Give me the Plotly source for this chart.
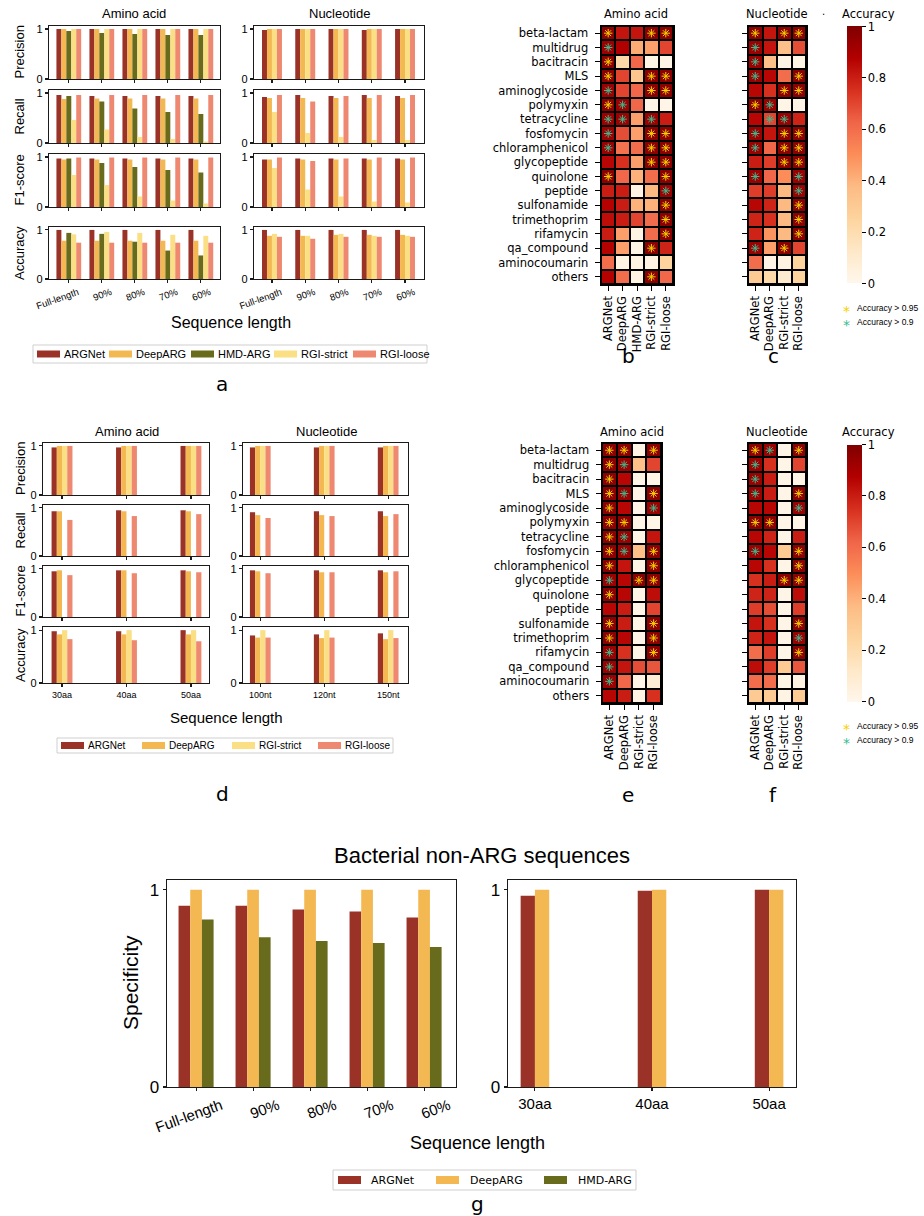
import plotly.graph_objects as go

W, H = 924, 1216
SANS = "Liberation Sans, Arial, sans-serif"
DJV = "DejaVu Sans, sans-serif"

# ---------------- data ----------------
length_labels = ["Full-length", "90%", "80%", "70%", "60%"]
aa_short_labels = ["30aa", "40aa", "50aa"]
nt_short_labels = ["100nt", "120nt", "150nt"]
metric_names = ["Precision", "Recall", "F1-score", "Accuracy"]
models5 = ["ARGNet", "DeepARG", "HMD-ARG", "RGI-strict", "RGI-loose"]
model_colors = ["#9b3228", "#f4b852", "#686b1b", "#fadf84", "#ee8870"]
idx4 = [0, 1, 3, 4]   # ARGNet, DeepARG, RGI-strict, RGI-loose
idx3 = [0, 1, 2]      # ARGNet, DeepARG, HMD-ARG
idx2 = [0, 1]         # ARGNet, DeepARG

# Panel a - amino acid (rows: ARGNet, DeepARG, HMD-ARG, RGI-strict, RGI-loose)
a_aa_precision = [[1.00, 1.00, 1.00, 1.00, 1.00],
                  [1.00, 1.00, 1.00, 1.00, 1.00],
                  [0.96, 0.92, 0.90, 0.88, 0.88],
                  [1.00, 1.00, 1.00, 1.00, 1.00],
                  [1.00, 1.00, 1.00, 1.00, 1.00]]
a_aa_recall = [[0.96, 0.94, 0.94, 0.94, 0.94],
               [0.88, 0.89, 0.89, 0.89, 0.89],
               [0.94, 0.83, 0.69, 0.62, 0.58],
               [0.46, 0.27, 0.12, 0.08, 0.03],
               [0.96, 0.96, 0.96, 0.96, 0.96]]
a_aa_f1 = [[0.97, 0.97, 0.97, 0.97, 0.97],
           [0.95, 0.95, 0.95, 0.95, 0.95],
           [0.97, 0.88, 0.80, 0.74, 0.69],
           [0.64, 0.44, 0.21, 0.13, 0.07],
           [0.99, 0.99, 0.99, 0.99, 0.99]]
a_aa_accuracy = [[1.00, 1.00, 1.00, 1.00, 1.00],
                 [0.78, 0.78, 0.78, 0.78, 0.78],
                 [0.94, 0.92, 0.76, 0.58, 0.48],
                 [0.91, 0.96, 0.94, 0.90, 0.88],
                 [0.74, 0.74, 0.74, 0.74, 0.74]]

# Panel a - nucleotide (rows: ARGNet, DeepARG, RGI-strict, RGI-loose)
a_nt_precision = [[0.98, 1.00, 1.00, 0.98, 1.00],
                  [1.00, 1.00, 1.00, 1.00, 1.00],
                  [1.00, 1.00, 1.00, 1.00, 1.00],
                  [1.00, 1.00, 1.00, 1.00, 1.00]]
a_nt_recall = [[0.92, 0.96, 0.94, 0.96, 0.94],
               [0.90, 0.90, 0.90, 0.90, 0.90],
               [0.62, 0.20, 0.12, 0.06, 0.06],
               [0.96, 0.83, 0.94, 0.96, 0.96]]
a_nt_f1 = [[0.95, 0.97, 0.97, 0.97, 0.97],
           [0.95, 0.95, 0.95, 0.95, 0.95],
           [0.78, 0.35, 0.21, 0.11, 0.09],
           [0.99, 0.92, 0.97, 0.99, 0.99]]
a_nt_accuracy = [[1.00, 1.00, 1.00, 1.00, 1.00],
                 [0.88, 0.88, 0.90, 0.90, 0.90],
                 [0.92, 0.88, 0.92, 0.88, 0.88],
                 [0.86, 0.82, 0.86, 0.86, 0.86]]

# Panel d - short amino acid reads (rows: ARGNet, DeepARG, RGI-strict, RGI-loose)
d_aa_precision = [[0.97, 0.97, 1.00],
                  [1.00, 1.00, 1.00],
                  [1.00, 1.00, 1.00],
                  [1.00, 1.00, 1.00]]
d_aa_recall = [[0.93, 0.95, 0.95],
               [0.93, 0.93, 0.93],
               [0.00, 0.00, 0.00],
               [0.75, 0.83, 0.87]]
d_aa_f1 = [[0.95, 0.97, 0.97],
           [0.97, 0.97, 0.95],
           [0.00, 0.00, 0.00],
           [0.87, 0.91, 0.93]]
d_aa_accuracy = [[0.98, 0.98, 1.00],
                 [0.92, 0.92, 0.92],
                 [1.00, 1.00, 1.00],
                 [0.83, 0.81, 0.79]]

# Panel d - short nucleotide reads
d_nt_precision = [[0.97, 0.97, 0.97],
                  [1.00, 1.00, 1.00],
                  [1.00, 1.00, 1.00],
                  [1.00, 1.00, 1.00]]
d_nt_recall = [[0.91, 0.93, 0.93],
               [0.85, 0.85, 0.83],
               [0.00, 0.00, 0.00],
               [0.79, 0.83, 0.87]]
d_nt_f1 = [[0.97, 0.97, 0.97],
           [0.95, 0.93, 0.93],
           [0.00, 0.00, 0.00],
           [0.91, 0.93, 0.95]]
d_nt_accuracy = [[0.90, 0.92, 0.94],
                 [0.86, 0.85, 0.83],
                 [1.00, 1.00, 1.00],
                 [0.86, 0.86, 0.85]]

# Panel g - specificity on bacterial non-ARG sequences
g_len_specificity = [[0.92, 0.92, 0.90, 0.89, 0.86],   # ARGNet
                     [1.00, 1.00, 1.00, 1.00, 1.00],   # DeepARG
                     [0.85, 0.76, 0.74, 0.73, 0.71]]   # HMD-ARG
g_short_specificity = [[0.97, 0.995, 1.00],            # ARGNet
                       [1.00, 1.00, 1.00]]             # DeepARG

# Heatmaps: per-class accuracy
arg_classes = ["beta-lactam", "multidrug", "bacitracin", "MLS", "aminoglycoside",
               "polymyxin", "tetracycline", "fosfomycin", "chloramphenicol",
               "glycopeptide", "quinolone", "peptide", "sulfonamide", "trimethoprim",
               "rifamycin", "qa_compound", "aminocoumarin", "others"]
heat_cols5 = ["ARGNet", "DeepARG", "HMD-ARG", "RGI-strict", "RGI-loose"]
heat_cols4 = ["ARGNet", "DeepARG", "RGI-strict", "RGI-loose"]

b_values = [[0.97, 0.82, 0.82, 0.97, 0.97],
            [0.93, 0.88, 0.42, 0.45, 0.70],
            [0.97, 0.22, 0.62, 0.02, 0.02],
            [0.97, 0.70, 0.32, 0.97, 0.97],
            [0.93, 0.70, 0.62, 0.97, 0.97],
            [0.97, 0.93, 0.62, 0.02, 0.02],
            [0.93, 0.93, 0.45, 0.93, 0.80],
            [0.93, 0.68, 0.45, 0.97, 0.97],
            [0.93, 0.58, 0.60, 0.97, 0.97],
            [0.86, 0.75, 0.45, 0.97, 0.97],
            [0.97, 0.62, 0.40, 0.60, 0.97],
            [0.80, 0.80, 0.03, 0.38, 0.93],
            [0.87, 0.80, 0.40, 0.40, 0.97],
            [0.84, 0.80, 0.70, 0.60, 0.97],
            [0.80, 0.45, 0.03, 0.60, 0.97],
            [0.87, 0.45, 0.03, 0.97, 0.78],
            [0.60, 0.03, 0.03, 0.03, 0.25],
            [0.87, 0.60, 0.03, 0.97, 0.62]]
b_stars = ["Y..YY", "G....", "Y....", "Y..YY", "G..YY", "YG...", "GG.G.", "G..YY", "G..YY",
           "...YY", "Y...Y", "....G", "....Y", "....Y", "....Y", "...Y.", ".....", "...Y."]

c_values = [[0.97, 0.82, 0.97, 0.97],
            [0.93, 0.82, 0.35, 0.68],
            [0.93, 0.35, 0.02, 0.02],
            [0.93, 0.86, 0.60, 0.97],
            [0.86, 0.75, 0.97, 0.97],
            [0.97, 0.93, 0.02, 0.02],
            [0.86, 0.70, 0.93, 0.78],
            [0.93, 0.82, 0.97, 0.97],
            [0.93, 0.62, 0.97, 0.97],
            [0.80, 0.72, 0.97, 0.97],
            [0.93, 0.62, 0.50, 0.93],
            [0.72, 0.72, 0.38, 0.93],
            [0.86, 0.78, 0.38, 0.97],
            [0.78, 0.75, 0.38, 0.97],
            [0.78, 0.48, 0.38, 0.97],
            [0.93, 0.45, 0.97, 0.70],
            [0.60, 0.03, 0.04, 0.25],
            [0.30, 0.22, 0.10, 0.25]]
c_stars = ["Y.YY", "G...", "G...", "G..Y", "..YY", "YG..", ".GG.", "G.YY", "G.YY",
           "..YY", "G..G", "...G", "...Y", "...Y", "...Y", "G.Y.", "....", "...."]

e_values = [[0.97, 0.97, 0.02, 0.97],
            [0.97, 0.93, 0.35, 0.70],
            [0.97, 0.86, 0.02, 0.02],
            [0.97, 0.93, 0.02, 0.97],
            [0.97, 0.86, 0.02, 0.93],
            [0.97, 0.97, 0.02, 0.02],
            [0.97, 0.93, 0.02, 0.82],
            [0.97, 0.93, 0.35, 0.97],
            [0.97, 0.82, 0.02, 0.97],
            [0.93, 0.86, 0.97, 0.97],
            [0.97, 0.86, 0.02, 0.84],
            [0.86, 0.80, 0.02, 0.70],
            [0.97, 0.80, 0.02, 0.97],
            [0.97, 0.86, 0.02, 0.97],
            [0.93, 0.75, 0.02, 0.97],
            [0.93, 0.82, 0.68, 0.66],
            [0.93, 0.62, 0.02, 0.08],
            [0.86, 0.80, 0.03, 0.75]]
e_stars = ["YY.Y", "YG..", "Y...", "YG.Y", "Y..G", "YY..", "YG..", "YG.Y", "Y..Y",
           "G.YY", "Y...", "....", "Y..Y", "Y..Y", "G..Y", "G...", "G...", "...."]

f_values = [[0.97, 0.93, 0.02, 0.97],
            [0.93, 0.75, 0.02, 0.70],
            [0.93, 0.80, 0.02, 0.02],
            [0.93, 0.80, 0.02, 0.97],
            [0.86, 0.86, 0.02, 0.93],
            [0.97, 0.97, 0.02, 0.02],
            [0.86, 0.78, 0.02, 0.80],
            [0.93, 0.86, 0.30, 0.97],
            [0.86, 0.75, 0.02, 0.97],
            [0.75, 0.80, 0.97, 0.97],
            [0.78, 0.78, 0.02, 0.84],
            [0.72, 0.68, 0.02, 0.72],
            [0.82, 0.75, 0.02, 0.97],
            [0.78, 0.82, 0.02, 0.93],
            [0.60, 0.72, 0.02, 0.97],
            [0.84, 0.72, 0.30, 0.66],
            [0.60, 0.60, 0.02, 0.03],
            [0.30, 0.30, 0.03, 0.30]]
f_stars = ["YG.Y", "G...", "G...", "G..Y", "...G", "YY..", "....", "G..Y", "...Y",
           "..YY", "....", "....", "...Y", "...G", "...Y", "....", "....", "...."]

star_colors = {"Y": "#f5d000", "G": "#3dbb8e"}
star_labels = {"Y": "Accuracy > 0.95", "G": "Accuracy > 0.9"}

# ---------------- figure ----------------
fig = go.Figure()
annotations = []
shapes = []
ax_n = [0]


def new_axes(x0, x1, y0, y1, xa, ya):
    ax_n[0] += 1
    n = ax_n[0]
    s = "" if n == 1 else str(n)
    xa = dict(xa, domain=[x0 / W, x1 / W], anchor="y" + s, automargin=False)
    ya = dict(ya, domain=[1 - y1 / H, 1 - y0 / H], anchor="x" + s, automargin=False)
    fig.update_layout({"xaxis" + s: xa, "yaxis" + s: ya})
    return "x" + s, "y" + s


frame = dict(showline=True, mirror=True, linecolor="#1a1a1a", linewidth=1.3,
             showgrid=False, zeroline=False, ticks="outside", ticklen=3,
             tickwidth=1.1, tickcolor="#1a1a1a", fixedrange=True)


def bar_panel(box, data, model_idx, cats, xrange, ymax, width, show_xlabels,
              xfont, tickangle, yfont, labelshift=0):
    x0, x1, y0, y1 = box
    xa = dict(frame, range=xrange, tickvals=list(range(len(cats))), ticktext=cats,
              showticklabels=show_xlabels, tickangle=tickangle, tickfont=xfont,
              ticklabelshift=labelshift)
    ya = dict(frame, range=[0, ymax], tickvals=[0, 1], ticktext=["0", "1"], tickfont=yfont)
    xr, yr = new_axes(x0, x1, y0, y1, xa, ya)
    n = len(data)
    for i, (vals, mi) in enumerate(zip(data, model_idx)):
        fig.add_trace(go.Bar(
            x=list(range(len(vals))), y=vals, width=width, offset=(i - n / 2) * width,
            marker=dict(color=model_colors[mi], line=dict(width=0)),
            name=models5[mi], xaxis=xr, yaxis=yr, showlegend=False, hoverinfo="skip"))


hfont = dict(size=11.5, family=DJV, color="black")


def heat_panel(box, values, stars, cols, show_rows, showscale, cb_mid):
    x0, x1, y0, y1 = box
    nc = len(cols)
    hframe = dict(showline=True, mirror=True, linecolor="black", linewidth=1.5,
                  showgrid=False, zeroline=False, ticks="outside", ticklen=5,
                  tickcolor="black", tickwidth=1, fixedrange=True)
    xa = dict(hframe, range=[-0.5, nc - 0.5], tickvals=list(range(nc)), ticktext=cols,
              tickangle=-90, tickfont=hfont, ticklabelstandoff=1)
    ya = dict(hframe, range=[len(arg_classes) - 0.5, -0.5],
              tickvals=list(range(len(arg_classes))), ticktext=arg_classes,
              showticklabels=show_rows, tickfont=hfont, ticklabelstandoff=4)
    xr, yr = new_axes(x0, x1, y0, y1, xa, ya)
    shapes.append(dict(type="rect", xref=xr + " domain", yref=yr + " domain",
                       x0=0, x1=1, y0=0, y1=1, fillcolor="black",
                       line=dict(width=0), layer="below"))
    cb = dict(x=847 / W, xanchor="left", xpad=0, ypad=0, y=1 - cb_mid / H,
              yanchor="middle", len=257, lenmode="pixels", thickness=15,
              thicknessmode="pixels", outlinewidth=0, ticks="outside", ticklen=4,
              tickcolor="black", tickvals=[0, 0.2, 0.4, 0.6, 0.8, 1],
              ticktext=["0", "0.2", "0.4", "0.6", "0.8", "1"], tickfont=hfont)
    fig.add_trace(go.Heatmap(
        z=values, x=list(range(nc)), y=list(range(len(arg_classes))),
        colorscale="OrRd", zmin=0, zmax=1, xgap=2, ygap=2,
        showscale=showscale, colorbar=cb, xaxis=xr, yaxis=yr, hoverinfo="skip"))
    for code, color in star_colors.items():
        xs = [c for r, row in enumerate(stars) for c, ch in enumerate(row) if ch == code]
        ys = [r for r, row in enumerate(stars) for c, ch in enumerate(row) if ch == code]
        fig.add_trace(go.Scatter(
            x=xs, y=ys, mode="markers", name=star_labels[code],
            marker=dict(symbol="asterisk-open", size=7, color=color,
                        line=dict(width=1, color=color)),
            xaxis=xr, yaxis=yr, showlegend=False, hoverinfo="skip"))


def ann(text, x, y, size, family=SANS, angle=0, xanchor="center", color="black"):
    annotations.append(dict(text=text, x=x / W, y=1 - y / H, xref="paper", yref="paper",
                            showarrow=False, textangle=angle, xanchor=xanchor,
                            yanchor="middle", font=dict(size=size, family=family, color=color)))


def prect(x0, x1, y0, y1, fill, line_color=None):
    shapes.append(dict(type="rect", xref="paper", yref="paper",
                       x0=x0 / W, x1=x1 / W, y0=1 - y1 / H, y1=1 - y0 / H,
                       fillcolor=fill, layer="above",
                       line=dict(width=1 if line_color else 0, color=line_color or fill)))


def manual_legend(box, entries, icon_h, size, family):
    bx0, bx1, by0, by1 = box
    prect(bx0, bx1, by0, by1, "white", "#cfcfcf")
    yc = (by0 + by1) / 2
    for mi, ix, tx in entries:
        prect(ix, ix + 23, yc - icon_h / 2, yc + icon_h / 2, model_colors[mi])
        ann(models5[mi], tx, yc, size, family=family, xanchor="left")


ytf = dict(size=11, family=SANS, color="black")

# ---- panel a ----
a_rows = [(26, 79), (90, 143), (154, 207), (227, 279)]
a_aa = [a_aa_precision, a_aa_recall, a_aa_f1, a_aa_accuracy]
a_nt = [a_nt_precision, a_nt_recall, a_nt_f1, a_nt_accuracy]
for r, (ry0, ry1) in enumerate(a_rows):
    last = r == 3
    bar_panel((49, 220, ry0, ry1), a_aa[r], [0, 1, 2, 3, 4], length_labels, [-0.6, 4.58],
              1.06, 0.15, last, dict(size=9.5, family=SANS, color="black"), -20, ytf, 9)
    bar_panel((254, 424, ry0, ry1), a_nt[r], idx4, length_labels, [-0.54, 4.57],
              1.06, 0.15, last, dict(size=9.5, family=SANS, color="black"), -20, ytf, 9)
    ann(metric_names[r], 19, (ry0 + ry1) / 2, 13, angle=-90)
ann("Amino acid", 134, 14, 13)
ann("Nucleotide", 339, 14, 13)
ann("Sequence length", 231, 322, 16)
manual_legend((33, 427, 345, 363), [(0, 37, 62), (1, 109, 134), (2, 191, 216),
                                    (3, 274, 299), (4, 353, 378)], 7, 11, SANS)
ann("a", 222, 384, 20, family=DJV)

# ---- panel d ----
d_rows = [(443, 495), (505, 556), (566, 617), (627, 683)]
d_aa = [d_aa_precision, d_aa_recall, d_aa_f1, d_aa_accuracy]
d_nt = [d_nt_precision, d_nt_recall, d_nt_f1, d_nt_accuracy]
for r, (ry0, ry1) in enumerate(d_rows):
    last = r == 3
    bar_panel((43, 209, ry0, ry1), d_aa[r], idx4, aa_short_labels, [-0.295, 2.28],
              1.06, 0.081, last, dict(size=9, family=SANS, color="black"), 0, ytf)
    bar_panel((243, 408, ry0, ry1), d_nt[r], idx4, nt_short_labels, [-0.27, 2.31],
              1.06, 0.081, last, dict(size=9, family=SANS, color="black"), 0, ytf)
    ann(metric_names[r], 20, (ry0 + ry1) / 2, 13, angle=-90)
ann("Amino acid", 127, 431, 13)
ann("Nucleotide", 326, 431, 13)
ann("Sequence length", 226, 717, 15)
manual_legend((57, 393, 738, 753), [(0, 61, 86), (1, 142, 167), (3, 232, 257),
                                    (4, 318, 343)], 7, 10, SANS)
ann("d", 222, 794, 20, family=DJV)

# ---- heatmaps ----
heat_panel((601, 673, 26, 284), b_values, b_stars, heat_cols5, True, False, 155)
heat_panel((748, 806, 26, 284), c_values, c_stars, heat_cols4, False, True, 155)
heat_panel((602, 661, 443, 703), e_values, e_stars, heat_cols4, True, False, 573)
heat_panel((748, 806, 443, 703), f_values, f_stars, heat_cols4, False, True, 573)
for (tx, ty, t) in [(636, 14, "Amino acid"), (777, 14, "Nucleotide"),
                    (632, 432, "Amino acid"), (777, 432, "Nucleotide"),
                    (868, 14, "Accuracy"), (868, 432, "Accuracy")]:
    ann(t, tx, ty, 11.5, family=DJV)
ann(".", 823, 12, 10, family=DJV)
for ly in (308, 726):
    ann("*", 846, ly + 3, 14, family=DJV, color=star_colors["Y"])
    ann(star_labels["Y"], 855, ly, 8.5, xanchor="left")
    ann("*", 846, ly + 17, 14, family=DJV, color=star_colors["G"])
    ann(star_labels["G"], 855, ly + 14, 8.5, xanchor="left")
ann("b", 628, 356, 20, family=DJV)
ann("c", 773, 356, 20, family=DJV)
ann("e", 628, 795, 20, family=DJV)
ann("f", 773, 795, 20, family=DJV)

# ---- panel g ----
bar_panel((167, 456, 880, 1087), g_len_specificity, idx3, length_labels, [-0.51, 4.56],
          1.05, 0.205, True, dict(size=15, family=SANS, color="black"), -20,
          dict(size=17, family=SANS, color="black"), 25)
bar_panel((508, 796, 880, 1087), g_short_specificity, idx2, aa_short_labels, [-0.23, 2.23],
          1.05, 0.122, True, dict(size=15, family=SANS, color="black"), 0,
          dict(size=17, family=SANS, color="black"))
ann("Bacterial non-ARG sequences", 482, 855, 22)
ann("Specificity", 130, 983, 21, angle=-90)
ann("Sequence length", 477, 1143, 18)
manual_legend((333, 636, 1170, 1190), [(0, 338, 369), (1, 436, 468), (2, 544, 576)],
              8, 11, DJV)
ann("g", 478, 1204, 20, family=DJV)

fig.update_layout(
    template="none",
    width=W, height=H, margin=dict(l=0, r=0, t=0, b=0, pad=0, autoexpand=False),
    font=dict(family=SANS, color="black"),
    paper_bgcolor="white", plot_bgcolor="white", barmode="overlay",
    showlegend=False, annotations=annotations, shapes=shapes,
)

fig.write_html("out.html", config={"displayModeBar": False, "staticPlot": True},
               post_script="document.body.style.margin='0px';document.body.style.padding='0px';")
